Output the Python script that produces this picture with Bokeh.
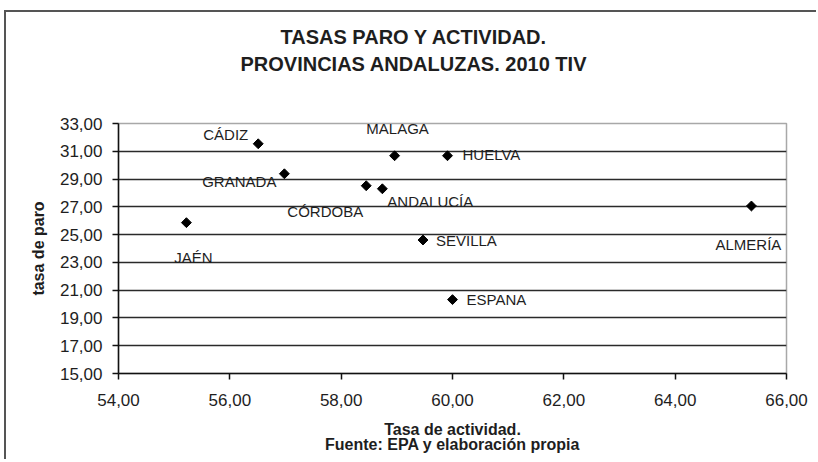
import math
from bokeh.plotting import figure
from bokeh.models import ColumnDataSource, FixedTicker, Range1d, Title
from bokeh.core.properties import value
from bokeh.embed import file_html
from bokeh.resources import INLINE

# ---------------- data ----------------
names = ["CÁDIZ", "GRANADA", "CÓRDOBA", "ANDALUCÍA", "JAÉN",
         "MÁLAGA", "HUELVA", "SEVILLA", "ALMERÍA", "ESPANA"]
actividad = [56.51, 56.98, 58.45, 58.74, 55.22, 58.96, 59.91, 59.47, 65.37, 60.00]
paro = [31.54, 29.38, 28.52, 28.30, 25.86, 30.68, 30.68, 24.61, 27.06, 20.32]

x_ticks = [54, 56, 58, 60, 62, 64, 66]
x_tick_labels = ["54,00", "56,00", "58,00", "60,00", "62,00", "64,00", "66,00"]
y_ticks = [15, 17, 19, 21, 23, 25, 27, 29, 31, 33]
y_tick_labels = ["15,00", "17,00", "19,00", "21,00", "23,00",
                 "25,00", "27,00", "29,00", "31,00", "33,00"]

title_lines = ["TASAS PARO Y ACTIVIDAD.", "PROVINCIAS ANDALUZAS. 2010 TIV"]
x_title = "Tasa de actividad."
y_title = "tasa de paro"
source_note = "Fuente: EPA y elaboración propia"

# ---------------- label placement (style) ----------------
label_place = {
    "CÁDIZ": ("right", -10, -9),
    "GRANADA": ("right", -8, 8),
    "CÓRDOBA": ("right", -3, 26),
    "ANDALUCÍA": ("left", 5, 13),
    "JAÉN": ("center", 7, 35),
    "MÁLAGA": ("center", 3, -27),
    "HUELVA": ("left", 15, -1),
    "SEVILLA": ("left", 13, 0),
    "ALMERÍA": ("center", -3, 38),
    "ESPANA": ("left", 14, 0),
}

FONT = "Liberation Sans"
TXT = "#1e1e1e"

src = ColumnDataSource(dict(
    x=actividad, y=paro, name=names,
    align=[label_place[n][0] for n in names],
    dx=[label_place[n][1] for n in names],
    dy=[label_place[n][2] for n in names],
))

p = figure(
    frame_width=668, frame_height=250,
    min_border_left=112, min_border_right=30,
    min_border_top=111, min_border_bottom=86,
    x_range=Range1d(x_ticks[0], x_ticks[-1]),
    y_range=Range1d(y_ticks[0], y_ticks[-1]),
    output_backend="svg", toolbar_location=None,
)
p.styles = {"margin-left": "4px", "margin-top": "10px",
            "border-top": "2px solid #555555", "border-left": "2px solid #555555"}

p.background_fill_color = "white"
p.border_fill_color = "white"
p.outline_line_color = "#a8a8a8"
p.outline_line_width = 1.5

# grid
p.xgrid.visible = False
p.ygrid.ticker = FixedTicker(ticks=y_ticks[1:-1])
p.ygrid.grid_line_color = "#2a2a2a"
p.ygrid.grid_line_width = 1.5

# axes
p.xaxis.ticker = FixedTicker(ticks=x_ticks)
p.xaxis.major_label_overrides = {t: l for t, l in zip(x_ticks, x_tick_labels)}
p.yaxis.ticker = FixedTicker(ticks=y_ticks)
p.yaxis.major_label_overrides = {t: l for t, l in zip(y_ticks, y_tick_labels)}

for ax in (p.xaxis[0], p.yaxis[0]):
    ax.axis_line_color = "#111111"
    ax.axis_line_width = 1.5
    ax.major_tick_line_color = "#111111"
    ax.major_tick_line_width = 1.5
    ax.major_tick_in = 0
    ax.major_tick_out = 6
    ax.minor_tick_line_color = None
    ax.major_label_text_font = FONT
    ax.major_label_text_font_size = "17px"
    ax.major_label_text_color = TXT
    ax.axis_label_text_font = FONT
    ax.axis_label_text_font_size = "16px"
    ax.axis_label_text_font_style = "bold"
    ax.axis_label_text_color = TXT

p.xaxis.axis_label = x_title + "\n" + source_note
p.xaxis.axis_label_text_line_height = 0.9
p.xaxis.major_label_standoff = 14
p.xaxis.axis_label_standoff = 12
p.yaxis.axis_label = y_title
p.yaxis.major_label_standoff = 10
p.yaxis.axis_label_standoff = 10

# points (rotated squares = diamonds as in the original)
p.scatter("x", "y", source=src, marker="square", size=7, angle=math.pi / 4,
          fill_color="black", line_color="black")

# point labels
p.text("x", "y", text="name", source=src, x_offset="dx", y_offset="dy",
       text_align="align", text_baseline="middle",
       text_font=value(FONT), text_font_size="15px", text_color=TXT)

# title: spacer nearest to the frame, then the two lines stacked outwards
p.add_layout(Title(text=" ", text_font_size="12px", standoff=30), "above")
p.add_layout(Title(text=title_lines[1], align="left", offset=122,
                   vertical_align="middle", standoff=3,
                   text_font=FONT, text_font_size="20px", text_font_style="bold",
                   text_color=TXT), "above")
p.add_layout(Title(text=title_lines[0], align="left", offset=162,
                   vertical_align="middle", standoff=3,
                   text_font=FONT, text_font_size="20px", text_font_style="bold",
                   text_color=TXT), "above")

open("out.html", "w").write(file_html(p, INLINE))
